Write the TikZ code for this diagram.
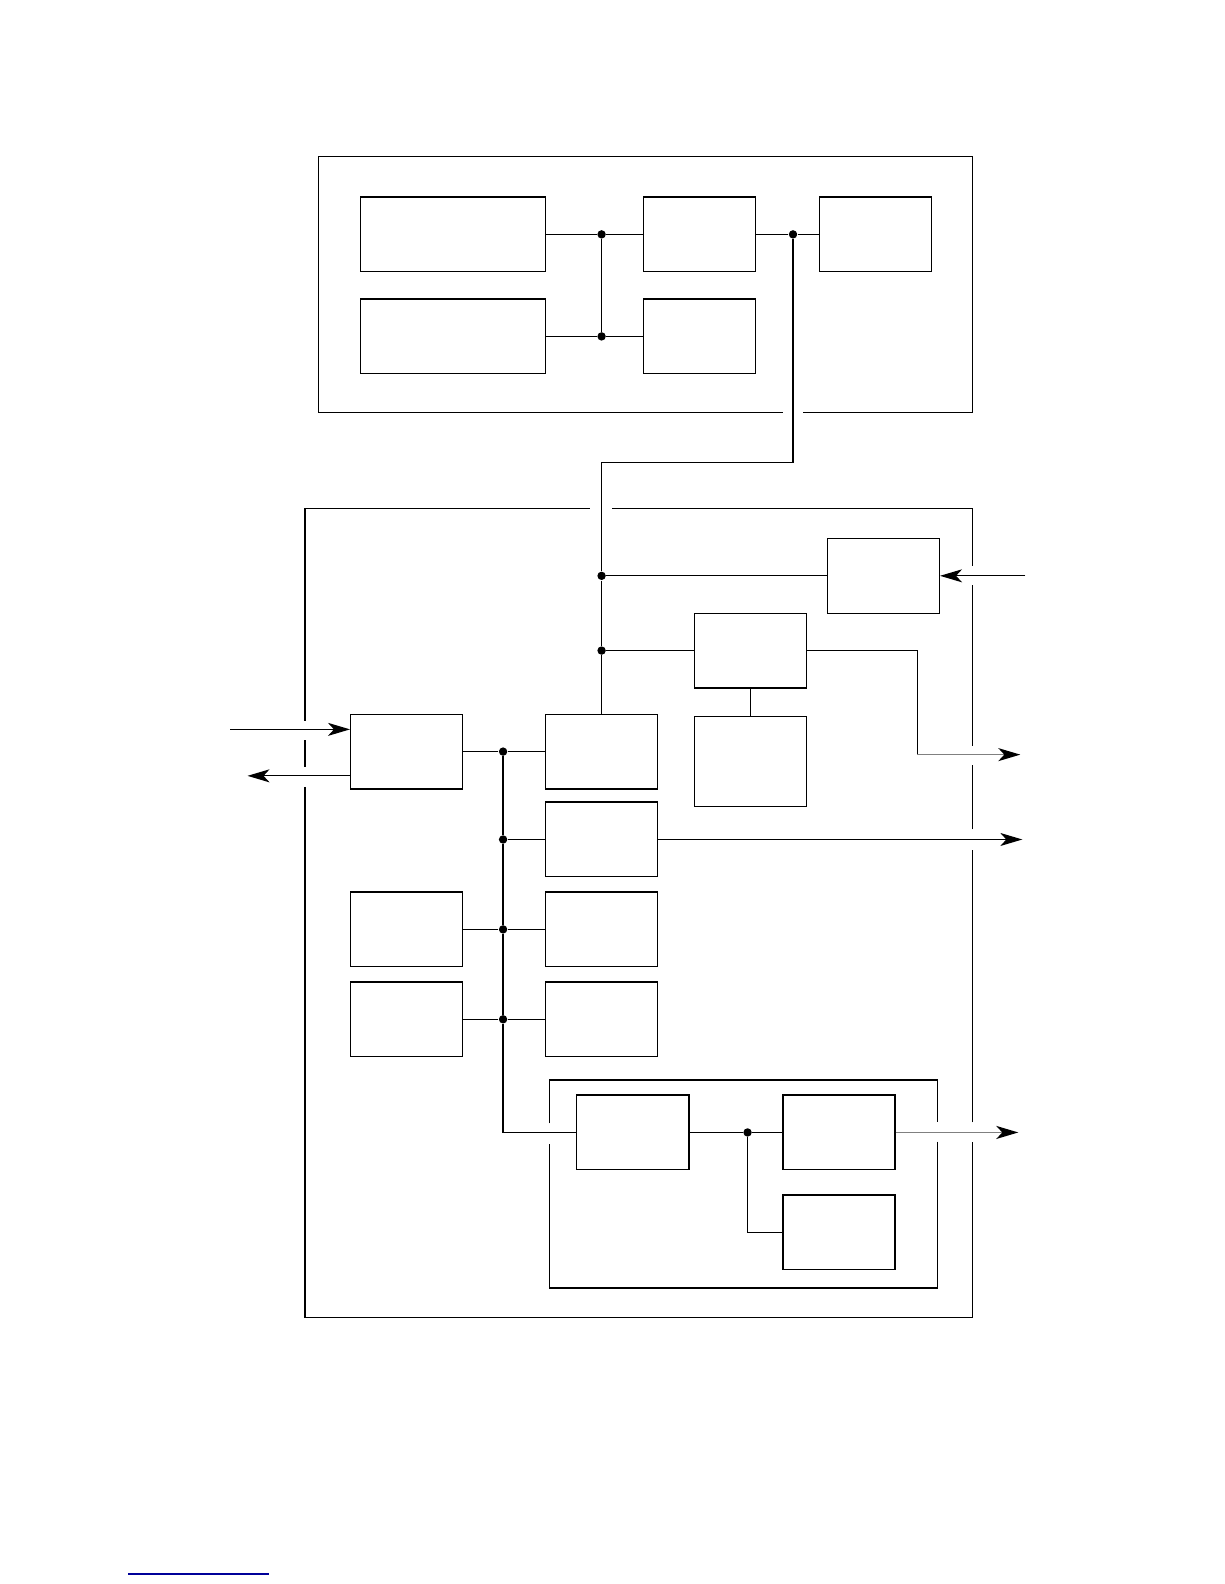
\documentclass[tikz,border=0pt]{standalone}
\usetikzlibrary{arrows.meta}
\begin{document}
\begin{tikzpicture}[x=0.505pt,y=-0.505pt,line width=0.6pt,
  blk/.style={draw,rectangle,inner sep=0pt,minimum width=56pt,minimum height=37.4pt},
  wideblk/.style={blk,minimum width=92.4pt},
  dot/.style={fill,circle,inner sep=0pt,minimum size=4.2pt},
  arr/.style={-{Stealth[length=11pt,width=6.5pt,inset=3pt,color=black]}},
  grey/.style={draw=black!50,line width=0.8pt}]
\useasboundingbox (0,0) rectangle (1212,1568);

% upper frame
\draw (775,408) -- (315,408) -- (315,155) -- (963,155) -- (963,408) -- (795,408);

\node[wideblk] (a1) at (448.5,232) {};
\node[wideblk] (a2) at (448.5,333) {};
\node[blk] (b1) at (692.5,232) {};
\node[blk] (b2) at (692.5,333) {};
\node[blk] (c) at (866.5,232) {};

\node[dot] (j1) at (595.5,232) {};
\node[dot] (j2) at (595.5,333) {};
\node[dot] (j3) at (785,232) {};

\draw (a1) -- (j1) -- (b1);
\draw (a2) -- (j2) -- (b2);
\draw (j1) -- (j2);
\draw (b1) -- (j3) -- (c);

% lower frame
\draw (963,560) -- (963,503) -- (606,503);
\draw (584,503) -- (302,503) -- (302,714);
\draw (302,733) -- (302,759);
\draw (302,779) -- (302,1304) -- (963,1304) -- (963,1130);
\draw (963,1111) -- (963,841);
\draw (963,821) -- (963,757);
\draw (963,738) -- (963,579);

\node[blk] (d) at (874.5,570) {};
\node[blk] (e) at (743,644) {};
\node[blk,minimum height=44.9pt] (f) at (743,754) {};
\node[blk] (g) at (402.5,744) {};
\node[blk] (h) at (595.5,744) {};
\node[blk] (i) at (595.5,831) {};
\node[blk] (j) at (402.5,920) {};
\node[blk] (k) at (595.5,920) {};
\node[blk] (l) at (402.5,1009) {};
\node[blk] (m) at (595.5,1009) {};

\node[dot] (j4) at (595.5,570) {};
\node[dot] (j5) at (595.5,644) {};
\node[dot] (b1d) at (498,744) {};
\node[dot] (b2d) at (498,831) {};
\node[dot] (b3d) at (498,920) {};
\node[dot] (b4d) at (498,1009) {};

\coordinate (k1) at (595.5,458);
\draw (j3) |- (k1) -- (j4) -- (j5) -- (h);
\draw (j4) -- (d);
\draw (j5) -- (e);
\draw (e) -- (f);

\coordinate (in1) at (228,722);
\coordinate (out1) at (245,768);
\draw[arr] (in1) -- (in1 -| g.west);
\draw[arr] (out1 -| g.west) -- (out1);

\coordinate (in2) at (1015,570);
\draw[arr] (in2) -- (d);

\coordinate (t1) at (908,747);
\coordinate (o1) at (1010,747);
\draw (e) -| (t1);
\draw[arr,grey] (t1) -- (o1);

\coordinate (o2) at (1012,831);
\draw[arr] (i) -- (o2);

\draw (g) -- (b1d) -- (h);
\draw (b2d) -- (i);
\draw (j) -- (b3d) -- (k);
\draw (l) -- (b4d) -- (m);
\draw (b1d) -- (b2d) -- (b3d) -- (b4d);

% inner frame
\draw (544,1112) -- (544,1069) -- (928,1069) -- (928,1111);
\draw (928,1130) -- (928,1275) -- (544,1275) -- (544,1132);

\node[blk] (n) at (626.5,1121) {};
\node[blk] (o) at (830.5,1121) {};
\node[blk] (p) at (830.5,1220) {};
\node[dot] (j6) at (740,1121) {};

\coordinate (b5) at (498,1121);
\draw (b4d) -- (b5) -- (n);
\draw (n) -- (j6) -- (o);
\draw (j6) |- (p);

\coordinate (o3) at (1008,1121);
\draw[arr,grey] (o) -- (o3);

\draw[blue!60!black,line width=1pt] (127,1558) -- (266,1558);
\end{tikzpicture}
\end{document}
